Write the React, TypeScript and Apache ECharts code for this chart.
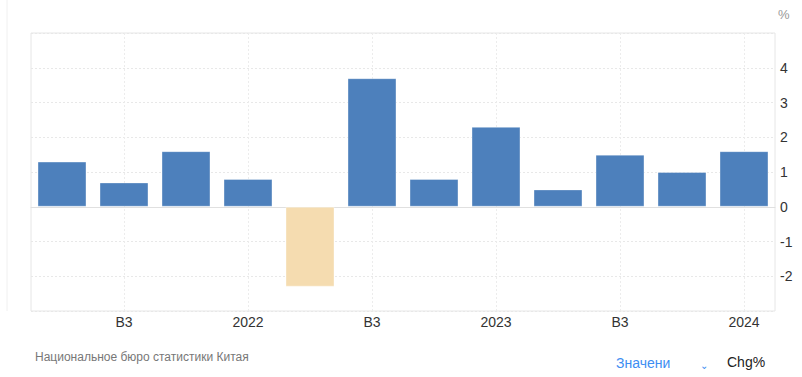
import React, { useEffect, useRef } from "react";
import * as echarts from "echarts";

const categories = ["Q2 2021", "B3", "Q4 2021", "2022", "Q2 2022", "B3", "Q4 2022", "2023", "Q2 2023", "B3", "Q4 2023", "2024"];
const values = [1.3, 0.7, 1.6, 0.8, -2.3, 3.7, 0.8, 2.3, 0.5, 1.5, 1.0, 1.6];
const labeledIndices = [1, 3, 5, 7, 9, 11];
const yMin = -3;
const yMax = 5;
const sourceText = "Национальное бюро статистики Китая";
const unitText = "%";

const POS = "#4d80bc";
const NEG = "#f5dcb0";

export default function App() {
  const ref = useRef<HTMLDivElement>(null);
  useEffect(() => {
    if (!ref.current) return;
    const chart = echarts.init(ref.current, undefined, { renderer: "svg" });
    const font = "'Liberation Sans', Arial, sans-serif";
    chart.setOption({
      animation: false,
      textStyle: { fontFamily: font },
      grid: { left: 31, right: 27, top: 33, bottom: 66, show: true, borderColor: "#e6e6e6", borderWidth: 1 },
      xAxis: {
        type: "category",
        data: categories,
        axisLine: { show: true, lineStyle: { color: "#e0e0e0" } },
        axisTick: { show: false },
        splitLine: { show: false },
        axisLabel: {
          interval: (i: number) => labeledIndices.includes(i),
          color: "#333",
          fontSize: 14,
          margin: 4,
          fontFamily: font,
        },
      },
      yAxis: {
        type: "value",
        position: "right",
        min: yMin,
        max: yMax,
        interval: 1,
        axisLine: { show: false },
        axisTick: { show: false },
        axisLabel: {
          color: "#333",
          fontSize: 14,
          margin: 5,
          fontFamily: font,
          formatter: (v: number) => (v === yMin || v === yMax ? "" : String(v)),
        },
        splitLine: { show: true, lineStyle: { color: "#e8e8e8", type: [2, 2] } },
      },
      series: [
        {
          type: "bar",
          data: values.map((v) => ({ value: v, itemStyle: { color: v < 0 ? NEG : POS } })),
          barCategoryGap: "21%",
          itemStyle: { borderColor: "rgba(255,255,255,0.35)", borderWidth: 1 },
          markLine: {
            silent: true,
            symbol: "none",
            label: { show: false },
            lineStyle: { color: "#ececec", type: [2, 2], width: 1 },
            data: labeledIndices.map((i) => ({ xAxis: i })),
            z: 0,
          },
          z: 2,
        },
      ],
      graphic: [
        { type: "line", shape: { x1: 7, y1: 0, x2: 7, y2: 311 }, style: { stroke: "#f0f0f0", lineWidth: 1 } },
        { type: "text", left: 778, top: 8, style: { text: unitText, fill: "#999", fontSize: 13, fontFamily: font } },
        { type: "text", left: 35, top: 351, style: { text: sourceText, fill: "#777", fontSize: 12, fontFamily: font } },
        { type: "text", left: 616, top: 356, style: { text: "Значени", fill: "#3d8ef2", fontSize: 14, fontFamily: font } },
        { type: "text", left: 700, top: 360, style: { text: "⌄", fill: "#3d8ef2", fontSize: 10, fontFamily: font } },
        { type: "text", left: 727, top: 355, style: { text: "Chg%", fill: "#222", fontSize: 14, fontFamily: font } },
      ],
    });
    return () => chart.dispose();
  }, []);
  return <div ref={ref} style={{ width: 802, height: 377, position: "absolute", left: 0, top: 0 }} />;
}
